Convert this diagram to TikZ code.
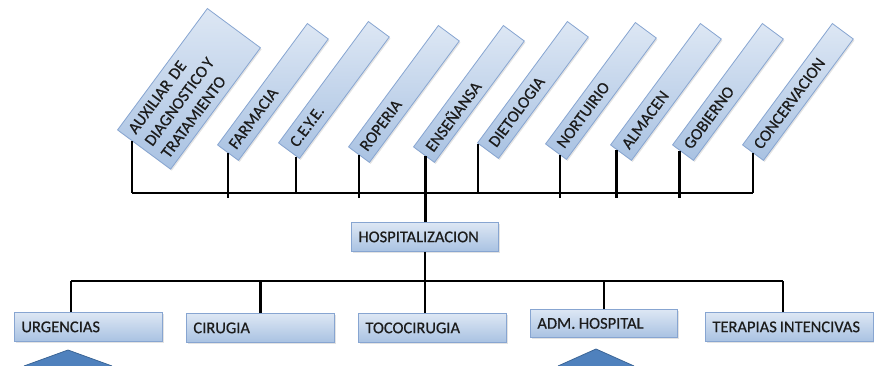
\documentclass[tikz,border=0pt]{standalone}
\usepackage{fontspec}
\setmainfont{Carlito}
\newfontfamily\orgfont{Carlito}[FakeBold=0.5]
\frenchspacing
\usetikzlibrary{calc,shadows}
\definecolor{boxtop}{HTML}{DDE7F4}
\definecolor{boxbot}{HTML}{A9C2E2}
\definecolor{boxline}{HTML}{87A5D1}
\definecolor{tri}{HTML}{4F81BD}
\definecolor{triline}{HTML}{3B6596}
\definecolor{txt}{HTML}{1C1C1C}
\tikzset{
  orgbox/.style={draw=boxline, line width=0.8pt, top color=boxtop, bottom color=boxbot,
    text=txt, font=\orgfont\fontsize{16.5}{19}\selectfont, inner xsep=7pt, inner ysep=2pt,
    align=left, drop shadow={opacity=0.22, shadow xshift=1.2pt, shadow yshift=-1.5pt}},
  flatbox/.style={orgbox, anchor=north west},
  rotbox/.style={orgbox, rotate=53.5, anchor=north west, text width=137pt, minimum height=26pt},
  conn/.style={draw=black, line width=2.2pt}
}
\begin{document}
\begin{tikzpicture}[x=1pt, y=-1pt]
\useasboundingbox (0,0) rectangle (874,366);

% rotated boxes (top row)
\node[rotbox, minimum height=66pt, font=\orgfont\fontsize{16.5}{20.5}\selectfont] (aux) at (117,130) {AUXILIAR DE\\DIAGNOSTICO\hspace{2pt}Y\\TRATAMIENTO};
\node[rotbox] (far) at (217,145) {FARMACIA};
\node[rotbox] (cey) at (278,143) {C.E.Y.E.};
\node[rotbox] (rop) at (348,147) {ROPERIA};
\node[rotbox] (ens) at (413,147) {ENSEÑANSA};
\node[rotbox] (die) at (477,143) {DIETOLOGIA};
\node[rotbox] (nor) at (545,144) {NORTUIRIO};
\node[rotbox] (alm) at (610,145) {ALMACEN};
\node[rotbox] (gob) at (672,145) {GOBIERNO};
\node[rotbox] (con) at (742,145) {CONCERVACION};

% middle and bottom boxes
\node[flatbox, text width=133pt, minimum height=29pt] (hosp) at (351,222) {HOSPITALIZACION};
\node[flatbox, text width=134pt, minimum height=29pt] (urg) at (14,312) {URGENCIAS};
\node[flatbox, text width=134pt, minimum height=29pt] (cir) at (186,313) {CIRUGIA};
\node[flatbox, text width=134pt, minimum height=29pt] (toc) at (358,313) {TOCOCIRUGIA};
\node[flatbox, text width=133pt, minimum height=28pt] (adm) at (530,309) {ADM.\hspace{3.5pt}HOSPITAL};
\node[flatbox, text width=154pt, minimum height=29pt] (ter) at (705,312) {TERAPIAS\hspace{3pt}INTENCIVAS};

% attachment points on the rotated boxes
\coordinate (auxA) at ($(aux.north west)!0.28!(aux.south west)$);
\coordinate (farA) at ($(far.north west)!0.5!(far.south west)$);
\coordinate (ceyA) at ($(cey.north west)!0.85!(cey.south west)$);
\coordinate (ropA) at ($(rop.north west)!0.5!(rop.south west)$);
\coordinate (ensA) at ($(ens.north west)!0.58!(ens.south west)$);
\coordinate (dieA) at ($(die.north west)!0.06!(die.south west)$);
\coordinate (norA) at ($(nor.north west)!0.7!(nor.south west)$);
\coordinate (almA) at ($(alm.north west)!0.3!(alm.south west)$);
\coordinate (gobA) at ($(gob.north west)!0.35!(gob.south west)$);
\coordinate (conA) at ($(con.north west)!0.5!(con.south west)$);
\coordinate (tb) at (0,193);
\coordinate (tbx) at (0,198);

\foreach \n in {aux,cey,die,con}
  \draw[conn] (\n A) -- (\n A |- tb);
\foreach \n in {far,rop,nor,alm,gob}
  \draw[conn] (\n A) -- (\n A |- tbx);
\draw[conn] (auxA |- tb) -- (conA |- tb);
\draw[conn] (ensA) -- (ensA |- hosp.north);

% bottom connectors
\coordinate (bb) at (0,281);
\coordinate (urgA) at ($(urg.north west)!0.385!(urg.north east)$);
\coordinate (terA) at ($(ter.north west)!0.46!(ter.north east)$);
\draw[conn] (hosp.south) -- (hosp.south |- toc.north);
\draw[conn] (urgA |- bb) -- (terA |- bb);
\draw[conn] (urgA) -- (urgA |- bb);
\draw[conn] (cir.north) -- (cir.north |- bb);
\draw[conn] (adm.north) -- (adm.north |- bb);
\draw[conn] (terA) -- (terA |- bb);

% partial triangles at the bottom edge
\fill[tri] (24,366) -- (68,350) -- (112,366) -- cycle;
\draw[triline, line width=0.8pt] (24,366) -- (68,350) -- (112,366);
\fill[tri] (558,366) -- (596,349) -- (634,366) -- cycle;
\draw[triline, line width=0.8pt] (558,366) -- (596,349) -- (634,366);
\end{tikzpicture}
\end{document}
